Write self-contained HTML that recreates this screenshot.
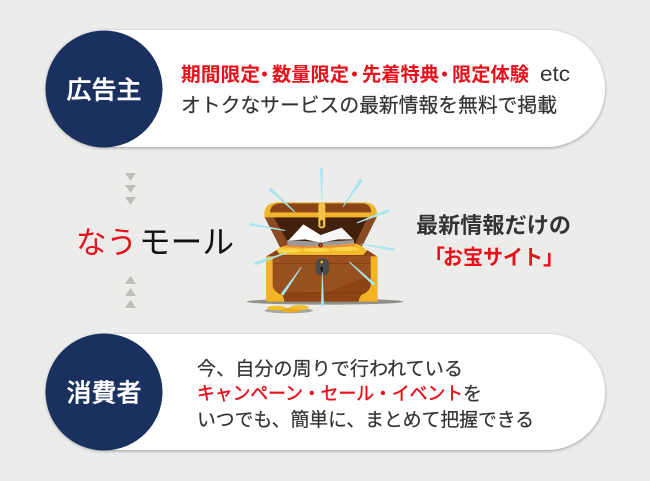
<!DOCTYPE html>
<html lang="ja"><head><meta charset="utf-8"><style>
html,body{margin:0;padding:0;background:#ecedea}
svg{display:block}
text{font-family:"Liberation Sans","Noto Sans CJK JP",sans-serif}
</style></head><body>
<svg width="650" height="481" viewBox="0 0 650 481" xmlns="http://www.w3.org/2000/svg">
<defs><filter id="s" x="-5%" y="-10%" width="110%" height="125%"><feDropShadow dx="0" dy="1" stdDeviation="1.5" flood-color="#000" flood-opacity=".35"/></filter></defs>
<rect width="650" height="481" fill="#ecedea"/>
<rect x="46" y="30" width="559" height="117" rx="58.5" fill="#fff" filter="url(#s)"/>
<rect x="46" y="334" width="559" height="116" rx="58" fill="#fff" filter="url(#s)"/>
<circle cx="104" cy="89" r="58.5" fill="#1a315f"/>
<circle cx="104" cy="392" r="58.5" fill="#1a315f"/>
<text x="104" y="98.500" font-size="25" font-weight="500" stroke="#fff" stroke-width=".4" fill="#fff" text-anchor="middle">広告主</text>
<text x="104" y="401.500" font-size="25" font-weight="500" stroke="#fff" stroke-width=".4" fill="#fff" text-anchor="middle">消費者</text>
<g font-size="19.500" font-weight="700" fill="#e8101a">
<text x="181" y="81" textLength="79" lengthAdjust="spacingAndGlyphs">期間限定</text>
<text x="264.500" y="81" text-anchor="middle">・</text>
<text x="272" y="81" textLength="77" lengthAdjust="spacingAndGlyphs">数量限定</text>
<text x="354.500" y="81" text-anchor="middle">・</text>
<text x="362" y="81" textLength="77" lengthAdjust="spacingAndGlyphs">先着特典</text>
<text x="444.500" y="81" text-anchor="middle">・</text>
<text x="452" y="81" textLength="77" lengthAdjust="spacingAndGlyphs">限定体験</text>
</g>
<text x="540" y="81" font-size="21.500" fill="#333" textLength="30" lengthAdjust="spacingAndGlyphs">etc</text>
<g fill="#333" stroke="#333" stroke-width=".2">
<text x="181" y="112" font-size="19.700" textLength="376" lengthAdjust="spacingAndGlyphs">オトクなサービスの最新情報を無料で掲載</text>
<text x="197" y="375" font-size="19" textLength="266" lengthAdjust="spacingAndGlyphs">今、自分の周りで行われている</text>
<text x="463" y="400" font-size="19">を</text>
<text x="197" y="426" font-size="18.800" textLength="337" lengthAdjust="spacingAndGlyphs">いつでも、簡単に、まとめて把握できる</text>
</g>
<text x="197" y="400" font-size="18.500" fill="#e8101a" stroke="#e8101a" stroke-width=".45" textLength="266" lengthAdjust="spacingAndGlyphs">キャンペーン・セール・イベント</text>
<text x="76" y="253.500" font-size="31" fill="#e8101a" textLength="61" lengthAdjust="spacingAndGlyphs">なう</text>
<text x="139" y="253" font-size="32" fill="#111" textLength="95" lengthAdjust="spacingAndGlyphs">モール</text>
<text x="416" y="233" font-size="22" font-weight="700" fill="#333" textLength="155" lengthAdjust="spacingAndGlyphs">最新情報だけの</text>
<g font-size="21" font-weight="700" fill="#e8101a">
<text x="424" y="264.500">「</text>
<text x="443" y="264.500" textLength="100" lengthAdjust="spacingAndGlyphs">お宝サイト</text>
<text x="543" y="264.500">」</text>
</g>
<g fill="#bdbeb9">
<polygon points="125,173 136,173 130.500,181"/><polygon points="125,185 136,185 130.500,193"/><polygon points="125,197 136,197 130.500,205"/>
<polygon points="125,284 136,284 130.500,276"/><polygon points="125,296 136,296 130.500,288"/><polygon points="125,308 136,308 130.500,300"/>
</g>
<g transform="translate(230 160) scale(.33333)">
<ellipse cx="285" cy="425" rx="235" ry="9" fill="#8f8f8b"/>
<ellipse cx="176" cy="452" rx="73" ry="8" fill="#a5a5a1"/>
<ellipse cx="140" cy="444" rx="29" ry="7" fill="#f2c02d"/><ellipse cx="207" cy="443" rx="29" ry="8" fill="#f2c02d"/><ellipse cx="182" cy="451" rx="29" ry="6" fill="#e9ae1e"/>
<polygon points="103,170 441,170 395,262 150,262" fill="#8a4a22"/>
<polygon points="130,170 414,170 376,250 176,250" fill="#43200c"/>
<path d="M103,172 V160 Q105,127 145,127 H400 Q439,127 441,160 V172 Z" fill="#f0b52a"/>
<path d="M120,157 Q122,130 150,130 H395 Q422,130 424,157 Z" fill="#8a4519"/>
<rect x="265" y="127" width="21" height="78" rx="9" fill="#f3c14a"/>
<rect x="271" y="180" width="8" height="20" rx="4" fill="#5a3410"/>
<polygon points="172,240 172,260 372,260 372,240 272,246" fill="#9a9a9a"/>
<polygon points="175,242 220,193 272,225 272,248 225,238" fill="#fff"/>
<polygon points="272,248 272,225 335,203 370,238 325,238" fill="#f6f6f6"/>
<path d="M132,276 Q150,258 175,256 Q270,262 370,250 Q395,252 410,272 L400,288 H145 Z" fill="#f3bb2c"/>
<path d="M165,258 Q270,266 375,254" fill="none" stroke="#f0883a" stroke-width="5"/>
<g fill="#fbd54a"><ellipse cx="175" cy="272" rx="38" ry="7"/><ellipse cx="260" cy="270" rx="40" ry="6"/><ellipse cx="345" cy="267" rx="42" ry="6"/></g>
<circle cx="272" cy="255" r="7" fill="#5a2a10"/><circle cx="272" cy="255" r="3" fill="#e8663a"/>
<polygon points="108,290 140,270 150,285 400,285 412,270 442,290 442,425 108,425" fill="#8d4313"/>
<polygon points="128,310 421,310 421,345 300,395 128,400" fill="#97511f"/>
<rect x="128" y="288" width="293" height="22" fill="#9c5020"/>
<rect x="128" y="310" width="293" height="1.500" fill="#6f3510"/><rect x="128" y="398" width="293" height="1.500" fill="#6f3510"/>
<rect x="108" y="289" width="20" height="136" fill="#f2b425"/><rect x="422" y="289" width="20" height="136" fill="#f2b425"/>
<path d="M108,425 V380 H128 Q135,398 155,404 Q162,412 163,425 Z" fill="#f2b425"/>
<path d="M442,425 V380 H422 Q415,398 395,404 Q388,412 386,425 Z" fill="#f2b425"/>
<rect x="257" y="296" width="40" height="50" rx="14" fill="#4b4a48"/>
<circle cx="275" cy="306" r="4" fill="#eeb32a"/><circle cx="275" cy="325" r="4" fill="#111"/><rect x="273" y="325" width="4" height="11" fill="#111"/>
<g fill="#a5e6f0">
<polygon points="270,24 280,24 276,124 275,124"/>
<polygon points="390,55 399,61 340,141 338,140"/>
<polygon points="476,147 480,155 382,190 380,187"/>
<polygon points="493,265 491,273 392,253 393,251"/>
<polygon points="436,371 430,377 357,307 359,305"/>
<polygon points="273,438 282,438 278,338 276,338"/>
<polygon points="152,402 160,407 215,322 213,321"/>
<polygon points="72,307 76,316 170,280 169,277"/>
<polygon points="60,189 58,196 165,213 166,210"/>
<polygon points="122,83 116,90 194,157 196,155"/>
</g></g>
</svg>
</body></html>
